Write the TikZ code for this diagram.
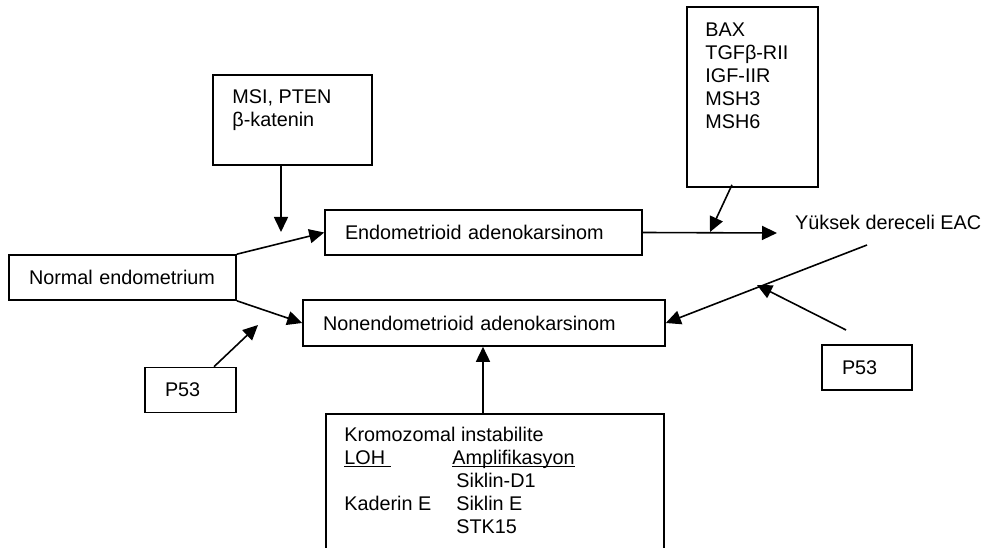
\documentclass[tikz,border=0pt]{standalone}
\usepackage{fontspec}
\setmainfont{Liberation Sans}
\usetikzlibrary{arrows.meta, calc}

\newcommand{\ulbox}[1]{\leavevmode\setbox0\hbox{#1}\rlap{\rule[-2.8pt]{\wd0}{1.4pt}}\box0}

\tikzset{
  box/.style={draw, line width=1.6pt, inner xsep=20pt, inner ysep=0pt, minimum height=45pt, align=left},
  link/.style={line width=1.6pt, -{Triangle[length=15pt, width=14pt]}},
}

\begin{document}
\begin{tikzpicture}[x=1pt, y=-1pt, font=\fontsize{19.8}{23}\selectfont]
    \useasboundingbox (0,0) rectangle (991,548);
    \clip (0,0) rectangle (991,548);

    % Left side
    \node[box, text width=187pt] (normal) at (122.5,277.5) {Normal endometrium};
    \node[box, text width=51pt] (p53a) at (190.5,390) {P53};
    \node[box, minimum width=159pt, minimum height=90pt] (msi) at (292.5,120) {};
    \node[anchor=base west, inner sep=0pt] (msitext) at ($(msi.north west)+(20,29)$)
        {\begin{tabular}[t]{@{}l@{}}MSI, PTEN\\β-katenin\end{tabular}};

    % Middle
    \node[box, text width=277pt] (endo) at (483.5,232.5) {Endometrioid adenokarsinom};
    \node[box, text width=322pt, minimum height=46pt] (nonendo) at (484,323) {Nonendometrioid adenokarsinom};
    \node[box, minimum width=338pt, minimum height=150pt] (kromo) at (495,489) {};
    \node[anchor=base west, inner sep=0pt] (kromotext) at ($(kromo.north west)+(19,28)$)
        {\begin{tabular}[t]{@{}p{108pt}@{}l@{}}
          \multicolumn{2}{@{}l@{}}{Kromozomal instabilite}\\
          \ulbox{LOH\ } & \ulbox{Amplifikasyon}\\
           & \hspace{4pt}Siklin-D1\\
          Kaderin E & \hspace{4pt}Siklin E\\
           & \hspace{4pt}STK15
        \end{tabular}};

    % Right side
    \node[box, minimum width=131pt, minimum height=180pt] (bax) at (752.5,97) {};
    \node[anchor=base west, inner sep=0pt] (baxtext) at ($(bax.north west)+(19,30)$)
        {\begin{tabular}[t]{@{}l@{}}BAX\\TGFβ-RII\\IGF-IIR\\MSH3\\MSH6\end{tabular}};
    \node[anchor=west, inner sep=0pt] (yuksek) at (795,222) {Yüksek dereceli EAC};
    \node[box, text width=50pt] (p53b) at (867,367.5) {P53};

    % Free arrow ends
    \coordinate (msitip) at (281,232);
    \coordinate (p53atip) at (258,325);
    \coordinate (baxtip) at (710,232);
    \coordinate (yuksektip) at (777,233);
    \coordinate (yuksekfoot) at (867,245);
    \coordinate (p53bfoot) at (846,330);
    \coordinate (p53btip) at (757,285);
    \coordinate (kromotop) at (483,414);

    % Arrows
    \draw[link] (msi.south -| msitip) -- (msitip);
    \draw[link] (normal.north east) -- (endo.west);
    \draw[link] (normal.south east) -- (nonendo.west);
    \draw[link] ($(p53a.north)+(23.5,0)$) -- (p53atip);
    \draw[link] ($(bax.south)+(-20.5,-3)$) -- (baxtip);
    \draw[link] (endo.east) -- (yuksektip);
    \draw[link] (yuksekfoot) -- (nonendo.east);
    \draw[link] (p53bfoot) -- (p53btip);
    \draw[link] (kromotop) -- (kromotop |- nonendo.south);
\end{tikzpicture}
\end{document}
